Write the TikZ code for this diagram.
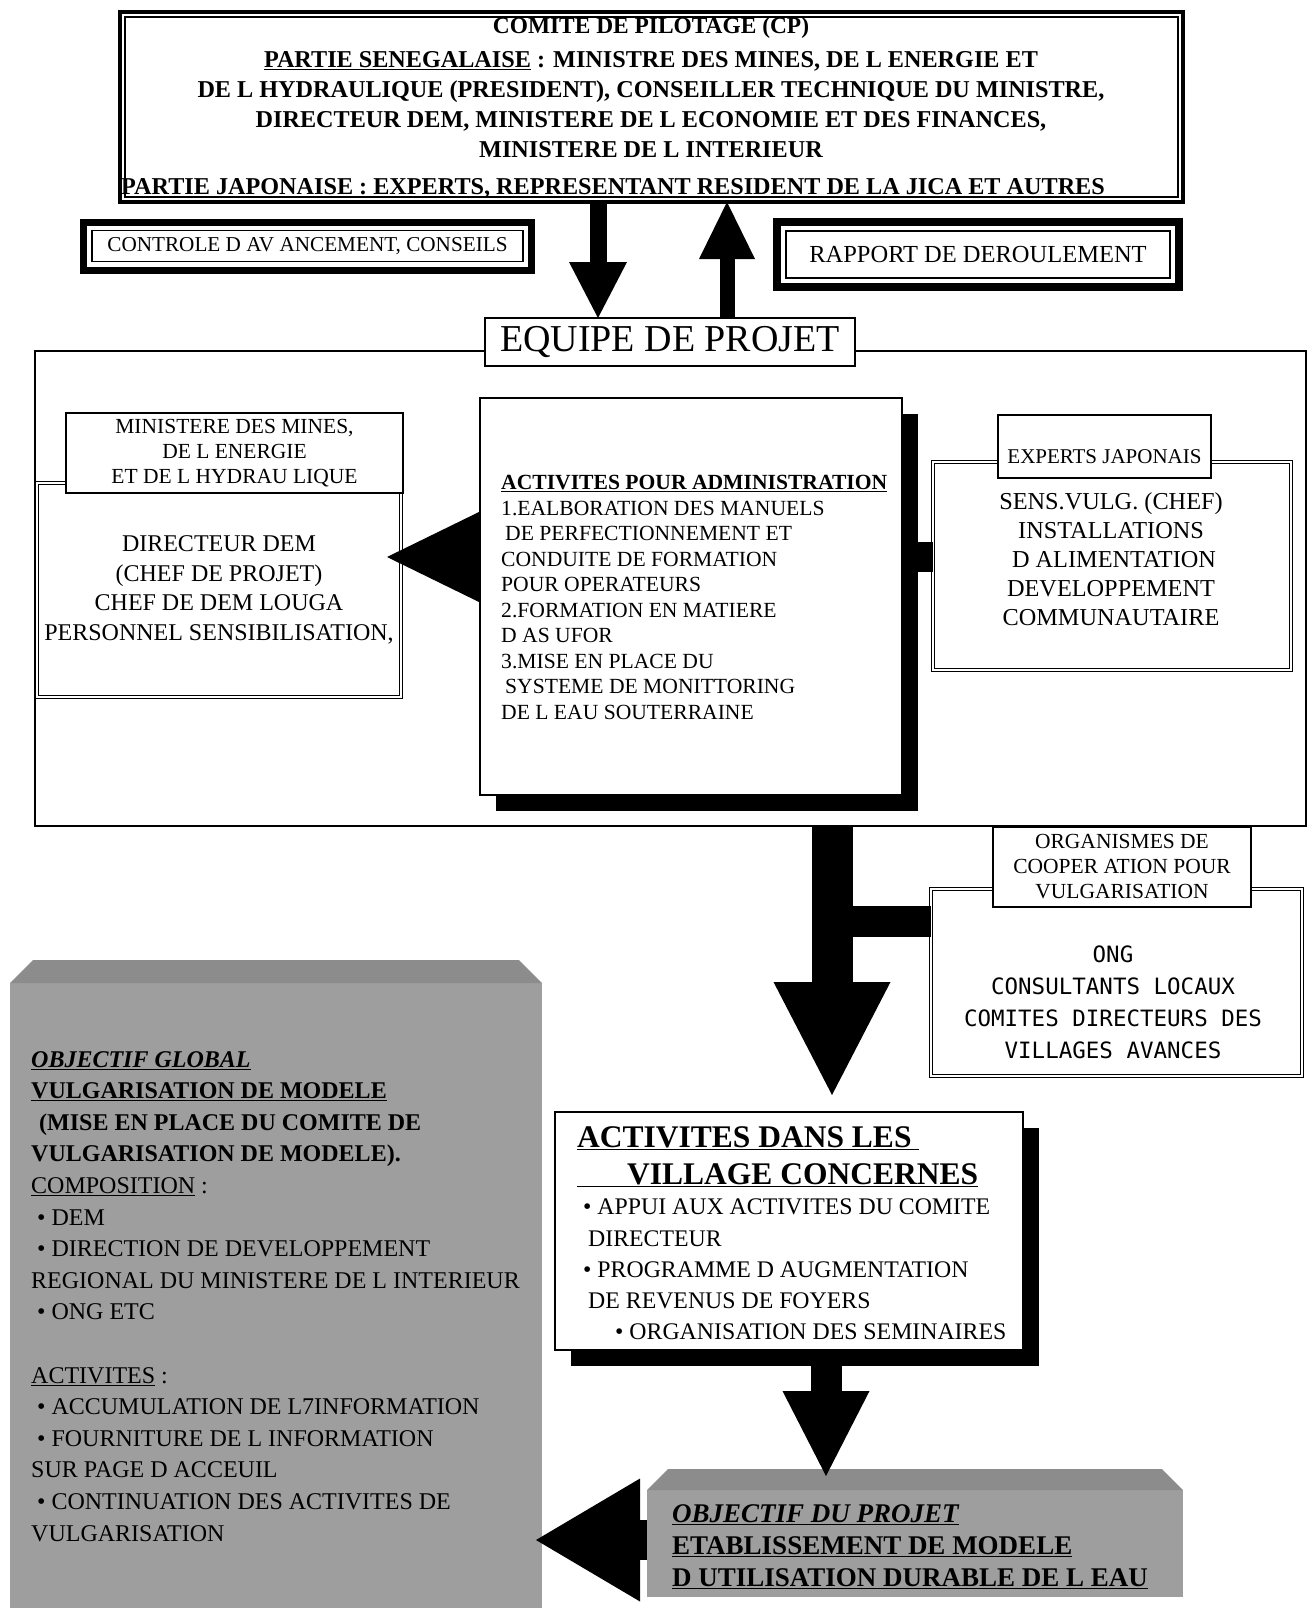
\documentclass[tikz,border=0pt]{standalone}
\usepackage{fontspec}
\setmainfont{Liberation Serif}
\newfontfamily\ongfont{DejaVu Sans Mono}
\usepackage{tikz}
\usetikzlibrary{shapes,arrows.meta,positioning,shadows}

\begin{document}
\begin{tikzpicture}[x=1pt,y=-1pt]
\tikzset{
  thickbox/.style={draw, line width=#1, fill=white, inner sep=0pt, outer sep=0pt, align=center},
  dblbox/.style={draw, double, double distance=2.5pt, line width=1pt, fill=white, inner sep=0pt, outer sep=0pt, align=center},
  plainbox/.style={draw, line width=1.5pt, fill=white, inner sep=0pt, outer sep=0pt, align=center},
  shadowbox/.style={draw, line width=1.5pt, fill=white, inner sep=0pt, outer sep=0pt,
    drop shadow={shadow xshift=16pt, shadow yshift=-16pt, fill=black, opacity=1}},
  greyface/.style={fill=black!38, inner sep=0pt, outer sep=0pt},
  greytop/.style={fill=black!45},
  blockarrow/.style n args={3}{line width=#1, -{Triangle[length=#2, width=#3, line width=0pt]}},
  txt/.style={inner sep=0pt, align=center},
  leftxt/.style={inner sep=0pt, align=left, anchor=north west},
}
\useasboundingbox (0,0) rectangle (1310,1608);

%Comite
\node[thickbox=3.5pt, minimum width=1063pt, minimum height=190pt] (cp) at (651.5,107) {};
\draw[line width=1.2pt] ([shift={(5pt,-5pt)}]cp.north west) rectangle ([shift={(-5pt,5pt)}]cp.south east);
\node[txt, font=\fontsize{24.2}{30}\selectfont\bfseries] (cptext) at (651,88) {{\fontsize{23.4}{30}\selectfont COMITE DE PILOTAGE (CP)}\\[4pt]
  \underline{PARTIE SENEGALAISE} : MINISTRE DES MINES, DE L ENERGIE ET\\
  DE L HYDRAULIQUE (PRESIDENT), CONSEILLER TECHNIQUE DU MINISTRE,\\
  DIRECTEUR DEM, MINISTERE DE L ECONOMIE ET DES FINANCES,\\
  MINISTERE DE L INTERIEUR};
\node[txt, anchor=west, font=\fontsize{24.2}{30}\selectfont\bfseries] (cpjap) at (121,188) {PARTIE JAPONAISE : EXPERTS, REPRESENTANT RESIDENT DE LA JICA ET AUTRES};

%Controle / rapport
\node[thickbox=7pt, minimum width=448pt, minimum height=48pt, font=\fontsize{21.2}{26}\selectfont] (ctrl) at (307.5,246) {CONTROLE D AV ANCEMENT, CONSEILS};
\draw[line width=1.5pt] ([shift={(8.5pt,-8.5pt)}]ctrl.north west) rectangle ([shift={(-8.5pt,8.5pt)}]ctrl.south east);
\node[thickbox=8pt, minimum width=402pt, minimum height=65pt, font=\fontsize{24.5}{28}\selectfont] (rapp) at (978,254.5) {RAPPORT DE DEROULEMENT};
\draw[line width=1.5pt] ([shift={(9pt,-9pt)}]rapp.north west) rectangle ([shift={(-9pt,9pt)}]rapp.south east);

%Equipe de projet
\node[draw, line width=2.5pt, minimum width=1271pt, minimum height=475pt, inner sep=0pt, outer sep=0pt] (team) at (670.5,588.5) {};
\node[plainbox, minimum width=370pt, minimum height=48pt, font=\fontsize{38}{40}\selectfont] (equipe) at (670,342) {EQUIPE DE PROJET};

% Ministere
\node[dblbox, minimum width=364pt, minimum height=214pt, font=\fontsize{24}{29.7}\selectfont] (dem) at (219,590) {DIRECTEUR DEM\\ (CHEF DE PROJET)\\ CHEF DE DEM LOUGA\\ PERSONNEL SENSIBILISATION,};
\node[plainbox, minimum width=337pt, minimum height=80pt, font=\fontsize{21.5}{25}\selectfont] (mmeh) at (234.5,453) {MINISTERE DES MINES,\\ DE L ENERGIE\\ ET DE L HYDRAU LIQUE};

% Administration
\node[shadowbox, minimum width=422pt, minimum height=397pt] (admin) at (691,596.5) {};
\node[leftxt, font=\fontsize{21.6}{25.5}\selectfont] (admintext) at (501,475) {\textbf{\underline{ACTIVITES POUR ADMINISTRATION}}\\
  1.EALBORATION DES MANUELS\\ \hspace*{4pt}DE PERFECTIONNEMENT ET\\ CONDUITE DE FORMATION\\ POUR OPERATEURS\\
  2.FORMATION EN MATIERE\\ D AS UFOR\\ 3.MISE EN PLACE DU\\ \hspace*{4pt}SYSTEME DE MONITTORING\\ DE L EAU SOUTERRAINE};

% Experts
\node[dblbox, minimum width=358pt, minimum height=208pt] (sens) at (1112,566) {};
\node[txt, font=\fontsize{24.3}{29}\selectfont] (senstext) at (1111,559.5) {SENS.VULG. (CHEF)\\ INSTALLATIONS\\ \hspace*{6pt}D ALIMENTATION\\ DEVELOPPEMENT\\ COMMUNAUTAIRE};
\node[plainbox, minimum width=213pt, minimum height=63pt] (jexp) at (1104.5,446.5) {};
\node[txt, font=\fontsize{21}{24}\selectfont] (jexptext) at (1104.5,457) {EXPERTS JAPONAIS};

% Vulgarisation
\node[dblbox, minimum width=371pt, minimum height=187pt] (ong) at (1116.5,982.5) {};
\node[txt, font=\ongfont\fontsize{22.5}{32}\selectfont] (ongtext) at (1113,1002) {ONG\\ CONSULTANTS LOCAUX\\ COMITES DIRECTEURS DES\\ VILLAGES AVANCES};
\node[plainbox, minimum width=258pt, minimum height=80pt, font=\fontsize{21.5}{25}\selectfont] (orgh) at (1122,867) {ORGANISMES DE\\ COOPER ATION POUR\\ VULGARISATION};

% Villages
\node[shadowbox, minimum width=468pt, minimum height=238pt] (act) at (789,1231) {};
\node[leftxt, font=\fontsize{31.5}{37}\selectfont\bfseries] (acttitle) at (577,1126) {\underline{ACTIVITES DANS LES\ }\\ \underline{\hspace*{50pt}VILLAGE CONCERNES}};
\node[leftxt, font=\fontsize{23.8}{31.25}\selectfont] (actbody) at (583,1199) {\textbullet\ APPUI AUX ACTIVITES DU COMITE\\ \hspace*{5pt}DIRECTEUR\\
  \textbullet\ PROGRAMME D AUGMENTATION\\ \hspace*{5pt}DE REVENUS DE FOYERS\\ \hspace*{32pt}\textbullet\ ORGANISATION DES SEMINAIRES};

% Objectif global
\node[greyface, minimum width=532pt, minimum height=625pt] (glob) at (276,1295.5) {};
\fill[greytop] (glob.north west) -- ++(23,-23) -- ([shift={(-23pt,23pt)}]glob.north east) -- (glob.north east) -- cycle;
\node[leftxt, font=\fontsize{24}{31.6}\selectfont] (globtext) at (31,1051) {\textbf{\textit{\underline{OBJECTIF GLOBAL}}}\\
  \textbf{\underline{VULGARISATION DE MODELE}}\\ \textbf{\hspace*{8pt}(MISE EN PLACE DU COMITE DE}\\ \textbf{VULGARISATION DE MODELE).}\\
  \underline{COMPOSITION} :\\ \hspace*{6pt}\textbullet\ DEM\\ \hspace*{6pt}\textbullet\ DIRECTION DE DEVELOPPEMENT\\
  REGIONAL DU MINISTERE DE L INTERIEUR\\ \hspace*{6pt}\textbullet\ ONG ETC\\[31.6pt]
  \underline{ACTIVITES} :\\ \hspace*{6pt}\textbullet\ ACCUMULATION DE L7INFORMATION\\ \hspace*{6pt}\textbullet\ FOURNITURE DE L INFORMATION\\
  SUR PAGE D ACCEUIL\\ \hspace*{6pt}\textbullet\ CONTINUATION DES ACTIVITES DE\\ VULGARISATION};

% Objectif du projet
\node[greyface, minimum width=536pt, minimum height=107pt] (obj) at (915,1543.5) {};
\fill[greytop] (obj.north west) -- ++(21,-21) -- ([shift={(-21pt,21pt)}]obj.north east) -- (obj.north east) -- cycle;
\node[leftxt, font=\fontsize{27}{32}\selectfont\bfseries] (objtext) at (672,1504) {\textit{\underline{OBJECTIF DU PROJET}}\\ \underline{ETABLISSEMENT DE MODELE}\\ \underline{D UTILISATION DURABLE DE L EAU}};

% Arrows
\coordinate (cpdown) at (598,0);
\coordinate (cpup) at (727,0);
\coordinate (demrow) at (0,557);
\coordinate (bigdown) at (832,0);
\coordinate (ongjoin) at (832,921.5);
\coordinate (actdown) at (826,0);
\coordinate (objrow) at (0,1540);
\draw[blockarrow={17pt}{56pt}{58pt}] (cp.south -| cpdown) -- (equipe.north -| cpdown);
\draw[blockarrow={15pt}{57pt}{56pt}] (equipe.north -| cpup) -- (cp.south -| cpup);
\draw[blockarrow={1pt}{93pt}{91pt}, shorten >=-14pt] (admin.west |- demrow) -- (dem.east |- demrow);
\draw[line width=30pt] (admin.east |- demrow) -- (sens.west |- demrow);
\draw[blockarrow={41pt}{113pt}{117pt}, shorten >=17pt] (team.south -| bigdown) -- (act.north -| bigdown);
\draw[line width=31pt] (ongjoin) -- (ong.west |- ongjoin);
\draw[blockarrow={31pt}{85pt}{87pt}, shorten >=14pt] (act.south -| actdown) -- (obj.north -| actdown);
\draw[blockarrow={40pt}{104pt}{123pt}, shorten >=-6pt] (obj.west |- objrow) -- (glob.east |- objrow);

\end{tikzpicture}
\end{document}
